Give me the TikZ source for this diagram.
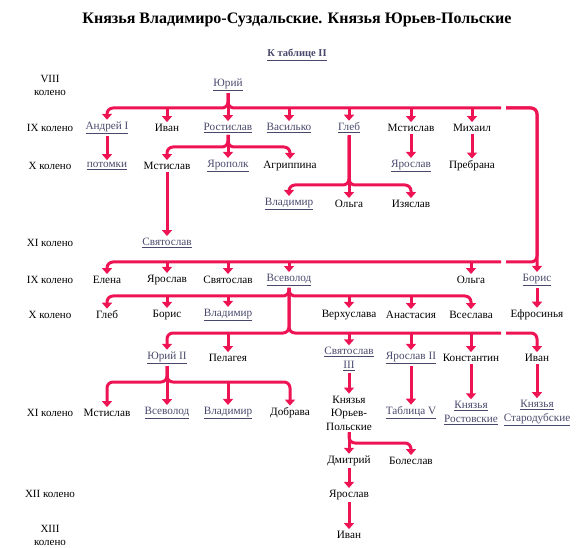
\documentclass[tikz,border=0pt]{standalone}
\usepackage{fontspec}
\setmainfont{Liberation Serif}
\usetikzlibrary{arrows.meta}
\definecolor{kin}{RGB}{238,20,84}
\definecolor{linkc}{RGB}{72,72,108}
\newcommand{\lnk}[1]{\textcolor{linkc}{\underline{#1}}}

\begin{document}
\begin{tikzpicture}[
  x=1pt, y=-1pt,
  pers/.style={font=\fontsize{11.2}{13.5}\selectfont, align=center, inner sep=2pt},
  lbl/.style={font=\fontsize{11}{13}\selectfont, align=center, inner sep=2pt},
  bar/.style={line width=3pt, draw=kin, rounded corners=6pt},
  arr/.style={bar, -{Triangle[length=6pt,width=10pt]}}
]
\useasboundingbox (0,0) rectangle (576,548);

\node[font=\bfseries\fontsize{16}{19}\selectfont] (title) at (297,20) {Князья Владимиро-Суздальские. Князья Юрьев-Польские};
\node[pers, font=\bfseries\fontsize{10.5}{13}\selectfont] (tab2) at (297,55) {\lnk{К таблице II}};

% generations
\node[lbl] (l8) at (50,85) {VIII\\колено};
\node[lbl] (l9a) at (50,128) {IX колено};
\node[lbl] (l10a) at (50,166) {X колено};
\node[lbl] (l11a) at (50,243) {XI колено};
\node[lbl] (l9b) at (50,280) {IX колено};
\node[lbl] (l10b) at (50,315) {X колено};
\node[lbl] (l11b) at (50,413) {XI колено};
\node[lbl] (l12) at (50,494) {XII колено};
\node[lbl] (l13) at (50,535) {XIII\\колено};

% bar levels and gaps
\coordinate (b1) at (0,108);
\coordinate (b2) at (0,147);
\coordinate (b3) at (0,185);
\coordinate (b4) at (0,262);
\coordinate (b5) at (0,296);
\coordinate (b6) at (0,333);
\coordinate (b7) at (0,382);
\coordinate (b8) at (0,443);
\coordinate (ga1) at (501,108);
\coordinate (ga2) at (506,108);
\coordinate (gb1) at (501,262);
\coordinate (gb2) at (506,262);
\coordinate (gc1) at (501,333);
\coordinate (gc2) at (506,333);

% people
\node[pers] (yuri) at (228,85) {\lnk{Юрий}};

\node[pers] (andrey) at (107,128) {\lnk{Андрей I}};
\node[pers] (ivan) at (167,128) {Иван};
\node[pers] (rostislav) at (228,128) {\lnk{Ростислав}};
\node[pers] (vasilko) at (289,128) {\lnk{Василько}};
\node[pers] (gleb) at (349,128) {\lnk{Глеб}};
\node[pers] (mstislav) at (411,128) {Мстислав};
\node[pers] (mikhail) at (472,128) {Михаил};

\node[pers] (potomki) at (107,166) {\lnk{потомки}};
\node[pers] (mstislavB) at (167,166) {Мстислав};
\node[pers] (yaropolk) at (228,166) {\lnk{Ярополк}};
\node[pers] (agrippina) at (290,166) {Агриппина};
\node[pers] (yaroslavA) at (411,166) {\lnk{Ярослав}};
\node[pers] (prebrana) at (472,166) {Пребрана};

\node[pers] (vladimirA) at (289,204) {\lnk{Владимир}};
\node[pers] (olgaA) at (349,204) {Ольга};
\node[pers] (izyaslav) at (411,204) {Изяслав};

\node[pers] (svyatoslavA) at (167,243) {\lnk{Святослав}};

\node[pers] (elena) at (107,280) {Елена};
\node[pers] (yaroslavB) at (167,280) {Ярослав};
\node[pers] (svyatoslavB) at (228,280) {Святослав};
\node[pers] (vsevolod) at (289,280) {\lnk{Всеволод}};
\node[pers] (olgaB) at (471,280) {Ольга};
\node[pers] (boris) at (537,280) {\lnk{Борис}};

\node[pers] (glebB) at (107,315) {Глеб};
\node[pers] (borisB) at (167,315) {Борис};
\node[pers] (vladimirB) at (228,315) {\lnk{Владимир}};
\node[pers] (verkhuslava) at (349,315) {Верхуслава};
\node[pers] (anastasia) at (411,315) {Анастасия};
\node[pers] (vseslava) at (471,315) {Всеслава};
\node[pers] (efrosinya) at (537,315) {Ефросинья};

\node[pers] (yuri2) at (167,358) {\lnk{Юрий II}};
\node[pers] (pelageya) at (228,358) {Пелагея};
\node[pers] (svyatoslav3) at (349,359) {\lnk{Святослав}\\\lnk{III}};
\node[pers] (yaroslav2) at (411,358) {\lnk{Ярослав II}};
\node[pers] (konstantin) at (471,358) {Константин};
\node[pers] (ivanB) at (537,358) {Иван};

\node[pers] (mstislavC) at (107,413) {Мстислав};
\node[pers] (vsevolodB) at (167,413) {\lnk{Всеволод}};
\node[pers] (vladimirC) at (228,413) {\lnk{Владимир}};
\node[pers] (dobrava) at (290,413) {Добрава};
\node[pers] (yurpol) at (349,413) {Князья\\Юрьев-\\Польские};
\node[pers] (tablica5) at (411,413) {\lnk{Таблица V}};
\node[pers] (rostov) at (471,413) {\lnk{Князья}\\\lnk{Ростовские}};
\node[pers] (starodub) at (537,413) {\lnk{Князья}\\\lnk{Стародубские}};

\node[pers] (dmitry) at (349,461) {Дмитрий};
\node[pers] (boleslav) at (411,461) {Болеслав};
\node[pers] (yaroslavC) at (349,495) {Ярослав};
\node[pers] (ivanC) at (349,535) {Иван};

% Yuri
\draw[arr] (yuri.south) |- (andrey |- b1) -- (andrey.north);
\draw[bar] (yuri.south) |- (ga1);
\draw[arr] (yuri.south) -- (rostislav.north);
\foreach \n in {ivan,vasilko,gleb,mstislav,mikhail}
  \draw[arr] (\n |- b1) -- (\n.north);
\draw[arr] (ga2) -| (boris.north);
\draw[bar] (ga2) -| (boris |- b4) -- (gb2);
\draw[arr] (gb1) -| (elena.north);
\foreach \n in {yaroslavB,svyatoslavB,vsevolod,olgaB}
  \draw[arr] (\n |- b4) -- (\n.north);

% IX -> X
\draw[arr] (andrey) -- (potomki);
\draw[arr] (rostislav.south) |- (mstislavB |- b2) -- (mstislavB.north);
\draw[arr] (rostislav.south) |- (agrippina |- b2) -- (agrippina.north);
\draw[arr] (rostislav.south) -- (yaropolk.north);
\draw[arr] (mstislav) -- (yaroslavA);
\draw[arr] (mikhail) -- (prebrana);
\draw[arr] (gleb.south) |- (vladimirA |- b3) -- (vladimirA.north);
\draw[arr] (gleb.south) |- (izyaslav |- b3) -- (izyaslav.north);
\draw[arr] (gleb.south) -- (olgaA.north);
\draw[arr] (mstislavB) -- (svyatoslavA);

% Vsevolod
\draw[arr] (vsevolod.south) |- (glebB |- b5) -- (glebB.north);
\draw[arr] (vsevolod.south) |- (vseslava |- b5) -- (vseslava.north);
\foreach \n in {borisB,vladimirB,verkhuslava,anastasia}
  \draw[arr] (\n |- b5) -- (\n.north);
\draw[arr] (vsevolod.south) |- (yuri2 |- b6) -- (yuri2.north);
\draw[bar] (vsevolod.south) |- (gc1);
\foreach \n in {pelageya,svyatoslav3,yaroslav2,konstantin}
  \draw[arr] (\n |- b6) -- (\n.north);
\draw[arr] (gc2) -| (ivanB.north);
\draw[arr] (boris) -- (efrosinya);

% XI and later
\draw[arr] (yuri2.south) |- (mstislavC |- b7) -- (mstislavC.north);
\draw[arr] (yuri2.south) |- (dobrava |- b7) -- (dobrava.north);
\draw[arr] (yuri2.south) -- (vsevolodB.north);
\draw[arr] (vladimirC |- b7) -- (vladimirC.north);
\draw[arr] (svyatoslav3) -- (yurpol);
\draw[arr] (yaroslav2) -- (tablica5);
\draw[arr] (konstantin) -- (rostov);
\draw[arr] (ivanB) -- (starodub);
\draw[arr] (yurpol.south) -- (dmitry.north);
\draw[arr] (yurpol.south) |- (boleslav |- b8) -- (boleslav.north);
\draw[arr] (dmitry) -- (yaroslavC);
\draw[arr] (yaroslavC) -- (ivanC);
\end{tikzpicture}
\end{document}
